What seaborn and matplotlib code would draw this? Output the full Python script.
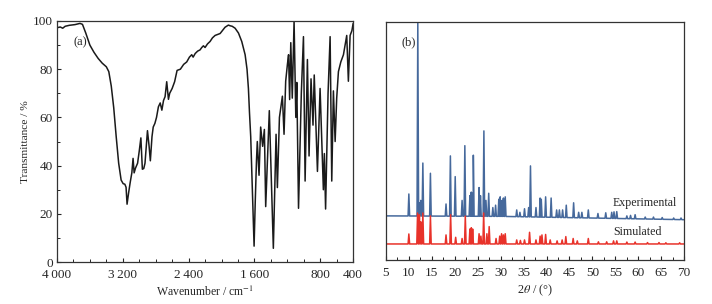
import numpy as np
import pandas as pd
import matplotlib
matplotlib.use("Agg")
import matplotlib.pyplot as plt
from matplotlib.ticker import MultipleLocator
import seaborn as sns

# IR spectrum (a): wavenumber / cm-1 and transmittance / %
ir_wn = [4000, 3960, 3930, 3900, 3850, 3780, 3720, 3690, 3650, 3600, 3550, 3500,
         3450, 3400, 3370, 3340, 3310, 3280, 3250, 3220, 3195, 3175, 3160, 3148,
         3130, 3110, 3090, 3075, 3062, 3045, 3020, 3000, 2980, 2962, 2945, 2930,
         2900, 2880, 2865, 2845, 2830, 2810, 2790, 2767, 2745, 2725, 2705, 2686,
         2666, 2645, 2630, 2600, 2570, 2540, 2500, 2460, 2423, 2390, 2362, 2345,
         2320, 2290, 2261, 2240, 2220, 2200, 2170, 2139, 2110, 2078, 2040, 2017,
         1990, 1957, 1930, 1916, 1895, 1870, 1835, 1794, 1754, 1713, 1690, 1673,
         1660, 1645, 1625, 1604, 1590, 1575, 1565, 1544, 1524, 1500, 1479, 1463,
         1419, 1370, 1350, 1337, 1321, 1296, 1260, 1240, 1220, 1199, 1185, 1172,
         1158, 1140, 1118, 1097, 1085, 1064, 1030, 1004, 984, 956, 936, 912, 888,
         873, 834, 802, 762, 750, 735, 705, 680, 660, 640, 619, 600, 579, 550,
         518, 478, 458, 437, 415, 400]
ir_t = [97.2, 97.5, 97.0, 97.8, 98.2, 98.5, 99.0, 98.6, 95, 90, 87, 84.5,
        82.5, 81, 79, 73, 64, 52, 41, 34, 32.5, 32.3, 31, 24,
        28.5, 33, 37, 43, 37, 39, 41, 46, 51.5, 38.5, 38.8, 41,
        54.5, 48, 42, 52, 56, 57.5, 60, 64.4, 66, 63, 67, 68.6,
        74.8, 67.5, 70, 72, 74.8, 79.5, 80, 82, 83, 85, 86, 85,
        86.5, 87.5, 88, 89, 89.7, 89, 90.5, 91.5, 93, 94, 94.5, 94.8,
        96, 97.4, 98, 98.3, 98, 97.8, 97, 95, 91.5, 86, 80, 72,
        62, 52, 30, 6.6, 25, 42, 50, 36, 56, 48, 55, 23,
        62.8, 5.7, 35, 53, 30.9, 60, 68.8, 53, 75, 82, 86, 67.4,
        91, 68, 100, 60, 74.5, 22.3, 70, 93.5, 33.6, 84, 44, 76, 56.8,
        77.6, 37.6, 72, 30, 45, 22, 70, 93.5, 33.6, 71, 50, 68, 79, 83,
        86, 94, 75, 94, 96, 99]

# XRD (b): peak positions 2theta and peak tops (arbitrary units)
exp_pos = [10.0, 11.95, 12.3, 12.6, 13.05, 14.7, 18.1, 19.05, 20.1, 21.6, 22.2,
           23.3, 23.6, 23.85, 24.05, 25.3, 25.6, 26.35, 26.8, 27.4, 28.3, 28.9,
           29.6, 29.9, 30.3, 30.6, 31.0, 33.5, 34.2, 35.2, 36.1, 36.5, 37.7,
           38.6, 38.85, 39.8, 41.0, 42.2, 42.8, 43.5, 44.3, 45.9, 47.0, 47.7,
           49.1, 51.2, 52.9, 54.2, 54.7, 55.3, 57.5, 58.3, 59.3, 61.5, 63.3,
           65.2, 67.7, 69.3]
exp_top = [27.7, 100, 24, 25, 40.7, 36.4, 23.5, 43.7, 35, 25, 48,
           27, 28.5, 28, 44, 30.4, 27, 54.2, 25, 28, 22, 23,
           25.5, 26.5, 25, 26, 26.5, 21, 20, 21.5, 22, 39.5, 22,
           26, 25.5, 26.5, 26, 21, 21, 21, 23, 24, 20, 20,
           21, 19.5, 19.8, 20, 20.2, 20.3, 18.5, 18.7, 19, 18, 18,
           17.8, 17.6, 17.6]
exp_base_x = [5, 30, 50, 70]
exp_base_y = [18.5, 18.3, 17.6, 16.9]

sim_pos = [10.0, 11.9, 12.3, 12.6, 13.05, 14.7, 18.1, 19.1, 20.2, 21.6, 22.3,
           23.3, 23.6, 23.9, 25.3, 25.7, 26.3, 27.0, 27.5, 29.0, 29.8, 30.2,
           30.6, 31.0, 33.5, 34.3, 35.2, 36.3, 37.7, 38.6, 39.0, 39.8, 40.8,
           42.3, 43.4, 44.2, 45.8, 46.7, 49.1, 51.3, 53.1, 54.6, 55.3, 57.5,
           59.3, 62.0, 64.5, 66.0, 69.0]
sim_top = [10.9, 19.7, 19, 16, 19.7, 18.5, 10.5, 19, 9.5, 9, 18.4,
           13, 13.5, 13, 11, 10, 19.7, 11, 14, 9, 10, 11,
           10.5, 11, 8.4, 8.2, 8.4, 11.6, 8.4, 10, 10.5, 10.7, 8.4,
           8, 8.4, 9.8, 9, 8, 9, 7.6, 7.6, 8, 8, 7.5,
           7.5, 7.3, 7.3, 7.2, 7.2]
sim_base_x = [5, 70]
sim_base_y = [6.7, 6.7]


def pattern(pos, top, bx, by, hw=0.17):
    # spikes on a baseline: foot - top - foot for each reflection
    xs = list(bx)
    ys = list(by)
    for p, t in zip(pos, top):
        for x, y in [(p - hw, None), (p, t), (p + hw, None)]:
            xs.append(x)
            ys.append(np.interp(x, bx, by) if y is None else y)
    df = pd.DataFrame({"x": xs, "y": ys}).sort_values("x")
    return df


sns.set_style("ticks")
plt.rcParams["font.family"] = ["Liberation Serif", "DejaVu Serif"]
plt.rcParams["mathtext.fontset"] = "stix"
plt.rcParams["xtick.direction"] = "in"
plt.rcParams["ytick.direction"] = "in"

fig = plt.figure(figsize=(7.12, 3.04), dpi=100)
ax1 = fig.add_axes([0.080, 0.138, 0.416, 0.793])
ax2 = fig.add_axes([0.542, 0.145, 0.419, 0.783])

# (a) IR
ir = pd.DataFrame({"wn": ir_wn, "t": ir_t})
sns.lineplot(data=ir, x="wn", y="t", sort=False, color="#1a1a1a", lw=1.1, ax=ax1)
ax1.set_xlim(4000, 400)
ax1.set_ylim(0, 100)
ax1.set_xticks([4000, 3200, 2400, 1600, 800, 400])
ax1.set_xticklabels(["4\u2009000", "3\u2009200", "2\u2009400", "1\u2009600", "800", "400"])
ax1.xaxis.set_minor_locator(MultipleLocator(200))
ax1.yaxis.set_major_locator(MultipleLocator(20))
ax1.yaxis.set_minor_locator(MultipleLocator(10))
ax1.set_xlabel("Wavenumber / cm$^{-1}$", fontsize=8.5, labelpad=3)
ax1.set_ylabel("Transmittance / %", fontsize=8.2, labelpad=2)
ax1.text(0.057, 0.91, "(a)", transform=ax1.transAxes, fontsize=9, va="center")

# (b) XRD
exp = pattern(exp_pos, exp_top, exp_base_x, exp_base_y)
sim = pattern(sim_pos, sim_top, sim_base_x, sim_base_y)
sns.lineplot(data=exp, x="x", y="y", sort=False, color="#46699c", lw=1.1, ax=ax2)
sns.lineplot(data=sim, x="x", y="y", sort=False, color="#e8322a", lw=1.1, ax=ax2)
ax2.set_xlim(5, 70)
ax2.set_ylim(0, 100)
ax2.xaxis.set_major_locator(MultipleLocator(5))
ax2.xaxis.set_minor_locator(MultipleLocator(2.5))
ax2.set_yticks([])
ax2.set_xlabel(r"2$\theta$ / (°)", fontsize=8.8, labelpad=3)
ax2.set_ylabel("")
ax2.text(0.053, 0.913, "(b)", transform=ax2.transAxes, fontsize=9, va="center")
ax2.text(61.5, 23.8, "Experimental", fontsize=8.6, ha="center", va="center")
ax2.text(59.8, 11.6, "Simulated", fontsize=8.6, ha="center", va="center")

for ax in (ax1, ax2):
    for s in ax.spines.values():
        s.set_visible(True)
        s.set_linewidth(0.9)
        s.set_color("#333333")
    ax.tick_params(which="major", length=3, width=0.8, labelsize=9.5)
    ax.tick_params(which="minor", length=2, width=0.7)
    ax.tick_params(axis="x", which="major", pad=5)
    ax.tick_params(axis="y", which="major", pad=3)

fig.savefig("out.png", dpi=100)
